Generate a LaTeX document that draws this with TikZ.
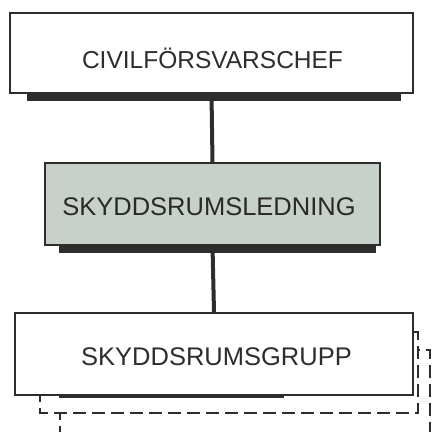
\documentclass[tikz,border=0pt]{standalone}
\usepackage{fontspec}
\setmainfont{Liberation Sans}
\usepackage{xcolor}
\usetikzlibrary{calc}
\definecolor{ink}{RGB}{45,45,45}
\definecolor{panel}{RGB}{200,208,202}
\begin{document}
\begin{tikzpicture}[
  x=1pt,y=-1pt,
  box/.style={draw=ink, line width=1.8pt, fill=white, inner sep=0pt, text=ink},
  ghost/.style={draw=ink, line width=1.8pt, dash pattern=on 13pt off 6pt, fill=white},
  shade/.style={fill=ink},
  link/.style={draw=ink, line width=4pt}
]
\useasboundingbox (0,0) rectangle (433,431);
\clip (0,0) rectangle (433,431);
\node[box, minimum width=403pt, minimum height=80pt] (chef) at (211.5,53) {};
\node[text=ink, font=\fontsize{24.5}{28}\selectfont] (cheftext) at (212.5,58) {CIVILFÖRSVARSCHEF};
\node[box, fill=panel, minimum width=335pt, minimum height=82pt] (ledning) at (212.5,204) {};
\node[text=ink!90!black, font=\fontsize{25.5}{29}\selectfont] (ledtext) at (209,207) {SKYDDSRUMSLEDNING};
\draw[ghost] (60,350) rectangle (430,445);
\draw[ghost] (40,332) rectangle (418,413);
\node[box, minimum width=398pt, minimum height=82pt] (grupp) at (214,354) {};
\node[text=ink, font=\fontsize{25.5}{29}\selectfont] (gruptext) at (216.5,357) {SKYDDSRUMSGRUPP};
\draw[link] (chef.south) -- (ledning.north);
\draw[link] (ledning.south) -- (grupp.north);
\fill[shade] ($(chef.south west)+(18,0)$) rectangle ($(chef.south east)+(-13,7)$);
\fill[shade] ($(ledning.south west)+(15,0)$) rectangle ($(ledning.south east)+(-5,7)$);
\fill[shade] ($(grupp.south west)+(45,0)$) rectangle ($(grupp.south east)+(-130,2)$);
\end{tikzpicture}
\end{document}
